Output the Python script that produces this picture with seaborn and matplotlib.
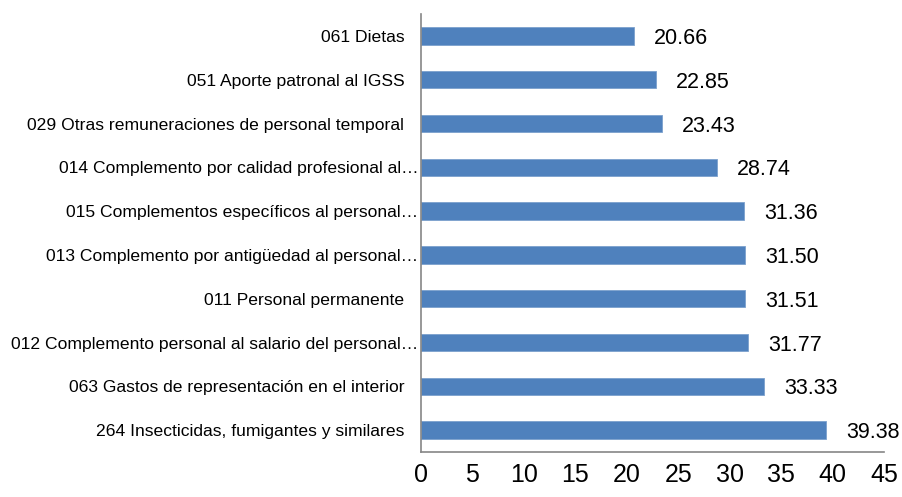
import matplotlib
matplotlib.use("Agg")
import pandas as pd
import seaborn as sns
import matplotlib.pyplot as plt
from matplotlib.transforms import ScaledTranslation

categories = [
    "061 Dietas",
    "051 Aporte patronal al IGSS",
    "029 Otras remuneraciones de personal temporal",
    "014 Complemento por calidad profesional al…",
    "015 Complementos específicos al personal…",
    "013 Complemento por antigüedad al personal…",
    "011 Personal permanente",
    "012 Complemento personal al salario del personal…",
    "063 Gastos de representación en el interior",
    "264 Insecticidas, fumigantes y similares",
]
values = [20.66, 22.85, 23.43, 28.74, 31.36, 31.50, 31.51, 31.77, 33.33, 39.38]
x_ticks = [0, 5, 10, 15, 20, 25, 30, 35, 40, 45]

df = pd.DataFrame({"Partida": categories, "Valor": values})

sns.set_style("white")
plt.rcParams['font.family'] = ['Liberation Sans', 'DejaVu Sans']
plt.rcParams['text.color'] = 'black'
plt.rcParams['xtick.color'] = 'black'
plt.rcParams['ytick.color'] = 'black'

fig = plt.figure(figsize=(9.03, 4.97), dpi=100)
ax = fig.add_axes([0.4662, 0.0905, 0.979 - 0.4662, 0.9718 - 0.0905])

sns.barplot(data=df, x="Valor", y="Partida", color="#4f81bd", saturation=1,
            width=0.4, ax=ax, edgecolor="#7ba0cd", linewidth=0.6)

vlabels = ax.bar_label(ax.containers[0], labels=[f"{v:.2f}" for v in values],
                       padding=14.5, fontsize=15.5, color="black")
for t in vlabels:
    t.set_verticalalignment("center_baseline")

ax.set_xlim(0, 45)
ax.set_xticks(x_ticks)
ax.set_xticklabels([str(t) for t in x_ticks], fontsize=18)
ax.set_ylim(len(categories) - 0.5, -0.5)
ax.set_yticks([i - 0.5 for i in range(len(categories) + 1)])
ax.set_yticklabels([""] * (len(categories) + 1))
ax.set_yticks(range(len(categories)), minor=True)
ax.set_yticklabels(categories, minor=True, fontsize=12.6)
ax.tick_params(axis="y", which="minor", length=0, pad=2)
ax.tick_params(axis="y", which="major", length=5, color="#868686", direction="out")
ax.tick_params(axis="x", length=5, color="#868686", labelcolor="black", direction="out", pad=3)
ax.set_xlabel("")
ax.set_ylabel("")

for side in ["top", "right"]:
    ax.spines[side].set_visible(False)
for side in ["left", "bottom"]:
    ax.spines[side].set_color("#868686")
    ax.spines[side].set_linewidth(1.2)

# labels that Excel did not truncate sit a bit further from the axis
shift = ScaledTranslation(-14 / 100, 0, fig.dpi_scale_trans)
for lab in ax.get_yticklabels(minor=True):
    if not lab.get_text().endswith("…"):
        lab.set_transform(lab.get_transform() + shift)

plt.savefig("out.png", dpi=100)
plt.close()
